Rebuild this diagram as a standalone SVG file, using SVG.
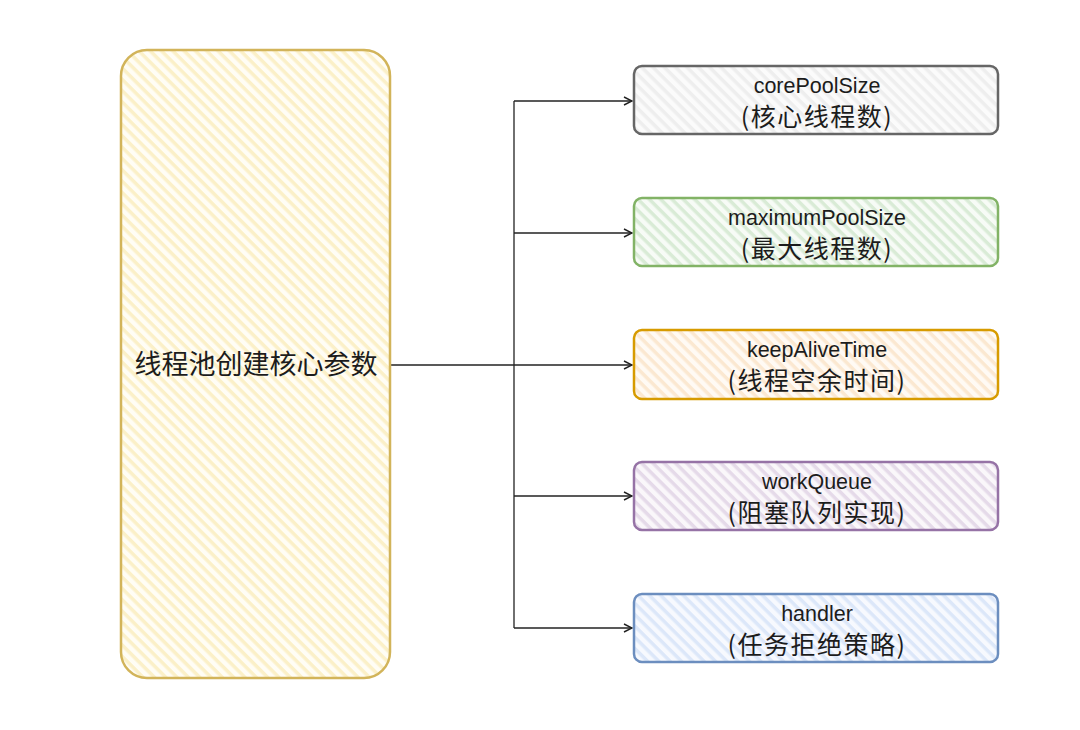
<svg xmlns="http://www.w3.org/2000/svg" width="1080" height="730" viewBox="0 0 1080 730">
<style>
.en{font-family:"Liberation Sans","Noto Sans CJK SC",sans-serif;font-size:21.5px;fill:#1c1c1c;text-anchor:middle}
.zh{font-family:"Noto Sans CJK SC",sans-serif;font-size:25px;letter-spacing:1.5px;fill:#1c1c1c;text-anchor:middle}
.box{stroke-width:2.5}
.conn{fill:none;stroke:#222;stroke-width:1.3}
</style>
<defs>
<pattern id="hY" width="8" height="8" patternUnits="userSpaceOnUse" patternTransform="rotate(45)"><rect width="8" height="8" fill="#fffdf5"/><rect width="8" height="3.5" fill="#fbf0c8"/></pattern>
<pattern id="hG" width="8" height="8" patternUnits="userSpaceOnUse" patternTransform="rotate(45)"><rect width="8" height="8" fill="#fbfbfb"/><rect width="8" height="3.5" fill="#eeeeee"/></pattern>
<pattern id="hGr" width="8" height="8" patternUnits="userSpaceOnUse" patternTransform="rotate(45)"><rect width="8" height="8" fill="#f7fbf6"/><rect width="8" height="3.5" fill="#d9ebd6"/></pattern>
<pattern id="hO" width="8" height="8" patternUnits="userSpaceOnUse" patternTransform="rotate(45)"><rect width="8" height="8" fill="#fffaf4"/><rect width="8" height="3.5" fill="#fbe8d1"/></pattern>
<pattern id="hP" width="8" height="8" patternUnits="userSpaceOnUse" patternTransform="rotate(45)"><rect width="8" height="8" fill="#faf7fa"/><rect width="8" height="3.5" fill="#e5dae9"/></pattern>
<pattern id="hB" width="8" height="8" patternUnits="userSpaceOnUse" patternTransform="rotate(45)"><rect width="8" height="8" fill="#f7f9fe"/><rect width="8" height="3.5" fill="#dce7f9"/></pattern>
<marker id="arr" viewBox="0 0 10 10" refX="9" refY="5" markerWidth="10" markerHeight="10" markerUnits="userSpaceOnUse" orient="auto"><path d="M1,1 L9,5 L1,9" fill="none" stroke="#222" stroke-width="1.4"/></marker>
</defs>
<rect width="1080" height="730" fill="#ffffff"/>
<g id="connectors">
<path class="conn" d="M390,365 H632" marker-end="url(#arr)"/>
<path class="conn" d="M514,101 V628"/>
<path class="conn" d="M514,101 H632" marker-end="url(#arr)"/>
<path class="conn" d="M514,233 H632" marker-end="url(#arr)"/>
<path class="conn" d="M514,496 H632" marker-end="url(#arr)"/>
<path class="conn" d="M514,628 H632" marker-end="url(#arr)"/>
</g>
<g id="main">
<rect class="box" x="121" y="50" width="269" height="628" rx="26" fill="url(#hY)" stroke="#d2b45a"/>
<text class="zh" x="256" y="374" style="font-size:27px;letter-spacing:0">线程池创建核心参数</text>
</g>
<g id="corePoolSize">
<rect class="box" x="634" y="66" width="364" height="68" rx="8" fill="url(#hG)" stroke="#666666"/>
<text class="en" x="817" y="93">corePoolSize</text>
<text class="zh" x="817" y="126">(核心线程数)</text>
</g>
<g id="maximumPoolSize">
<rect class="box" x="634" y="198" width="364" height="68" rx="8" fill="url(#hGr)" stroke="#82b366"/>
<text class="en" x="817" y="225">maximumPoolSize</text>
<text class="zh" x="817" y="258">(最大线程数)</text>
</g>
<g id="keepAliveTime">
<rect class="box" x="634" y="330" width="364" height="69" rx="8" fill="url(#hO)" stroke="#d79b00"/>
<text class="en" x="817" y="357">keepAliveTime</text>
<text class="zh" x="817" y="390">(线程空余时间)</text>
</g>
<g id="workQueue">
<rect class="box" x="634" y="462" width="364" height="68" rx="8" fill="url(#hP)" stroke="#9673a6"/>
<text class="en" x="817" y="489">workQueue</text>
<text class="zh" x="817" y="522">(阻塞队列实现)</text>
</g>
<g id="handler">
<rect class="box" x="634" y="594" width="364" height="68" rx="8" fill="url(#hB)" stroke="#6c8ebf"/>
<text class="en" x="817" y="621">handler</text>
<text class="zh" x="817" y="654">(任务拒绝策略)</text>
</g>
</svg>
